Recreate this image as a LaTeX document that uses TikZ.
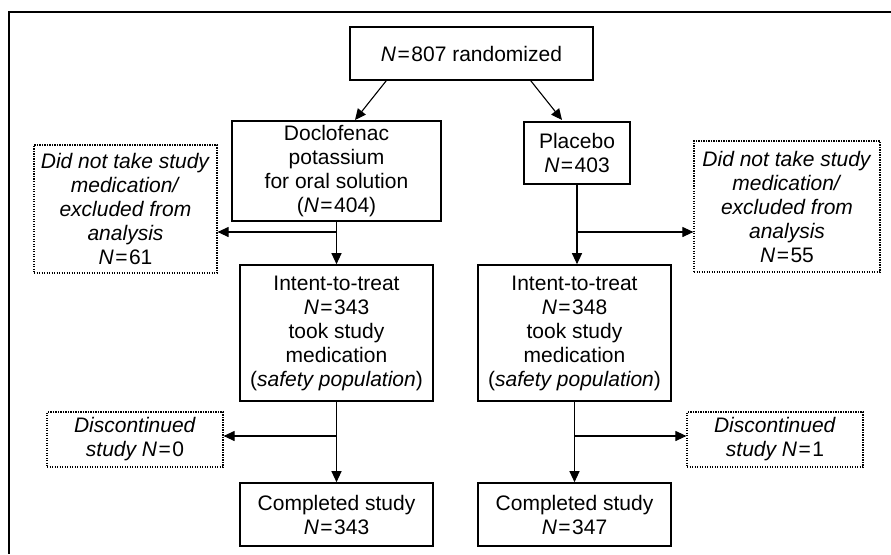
\documentclass[tikz,border=0pt]{standalone}
\usepackage{fontspec}
\setmainfont{Liberation Sans}
\usetikzlibrary{arrows.meta, positioning, calc}
\newcommand{\eqn}{\kern1.5pt=\kern1.5pt}
\tikzset{
    stage/.style={
        rectangle,
        draw=black,
        line width=1.6pt,
        align=center,
        inner sep=2pt,
        fill=white,
        font=\fontsize{21}{24}\selectfont
    },
    dropout/.style={
        rectangle,
        draw=black,
        line width=1.2pt,
        dash pattern=on 1.2pt off 1.3pt,
        align=center,
        inner sep=2pt,
        fill=white,
        font=\fontsize{21}{24}\selectfont
    },
    flow/.style={
        draw=black,
        line width=1.1pt,
        -{Triangle[length=11pt,width=10pt]}
    },
    frameline/.style={
        draw=black,
        line width=1.4pt
    }
}
\begin{document}
\begin{tikzpicture}[x=1pt, y=-1pt]

\useasboundingbox (0,0) rectangle (891,554);

% Figure frame (top and left edges only)
\draw[frameline] (891,12) -- (9,12) -- (9,554);

% Randomization
\node[stage, minimum width=243pt, minimum height=53pt] (rand) at (471.5,53.5) {\textit{N}\eqn807 randomized};

% Treatment arms
\node[stage, minimum width=209pt, minimum height=100pt] (drug) at (336.5,171) {Doclofenac\\potassium\\for oral solution\\(\textit{N}\eqn404)};
\node[stage, minimum width=106pt, minimum height=62pt] (plac) at (577,153) {Placebo\\\textit{N}\eqn403};

\draw[flow] (rand.south west) ++(37,0) -- (355,120);
\draw[flow] (rand.south east) ++(-63,0) -- (562,120);

% Excluded from analysis
\node[dropout, minimum width=183pt, minimum height=128pt] (exclL) at (125.5,209) {\textit{Did not take study}\\\textit{medication/}\\\textit{excluded from}\\\textit{analysis}\\\textit{N}\eqn61};
\node[dropout, minimum width=186pt, minimum height=131pt] (exclR) at (787,206.5) {\textit{Did not take study}\\\textit{medication/}\\\textit{excluded from}\\\textit{analysis}\\\textit{N}\eqn55};

% Intent-to-treat
\node[stage, minimum width=193pt, minimum height=136pt] (ittL) at (336.5,333) {Intent-to-treat\\\textit{N}\eqn343\\took study\\medication\\(\textit{safety population})};
\node[stage, minimum width=193pt, minimum height=136pt] (ittR) at (574.5,333) {Intent-to-treat\\\textit{N}\eqn348\\took study\\medication\\(\textit{safety population})};

\coordinate (splitL) at (drug.south |- 0,232);
\coordinate (splitR) at (plac.south |- 0,232);

\draw[flow] (drug.south) -- (ittL.north);
\draw[flow] (splitL) -- (splitL -| exclL.east);
\draw[flow] (plac.south) -- (plac.south |- ittR.north);
\draw[flow] (splitR) -- (splitR -| exclR.west);

% Discontinued
\node[dropout, minimum width=176pt, minimum height=55pt] (discL) at (135,439.5) {\textit{Discontinued}\\\textit{study N}\eqn0};
\node[dropout, minimum width=176pt, minimum height=55pt] (discR) at (775,439.5) {\textit{Discontinued}\\\textit{study N}\eqn1};

% Completed
\node[stage, minimum width=193pt, minimum height=63pt] (compL) at (336.5,514.5) {Completed study\\\textit{N}\eqn343};
\node[stage, minimum width=193pt, minimum height=63pt] (compR) at (574.5,514.5) {Completed study\\\textit{N}\eqn347};

\coordinate (stopL) at (ittL.south |- 0,436);
\coordinate (stopR) at (ittR.south |- 0,436);

\draw[flow] (ittL.south) -- (compL.north);
\draw[flow] (stopL) -- (stopL -| discL.east);
\draw[flow] (ittR.south) -- (compR.north);
\draw[flow] (stopR) -- (stopR -| discR.west);

\end{tikzpicture}
\end{document}
